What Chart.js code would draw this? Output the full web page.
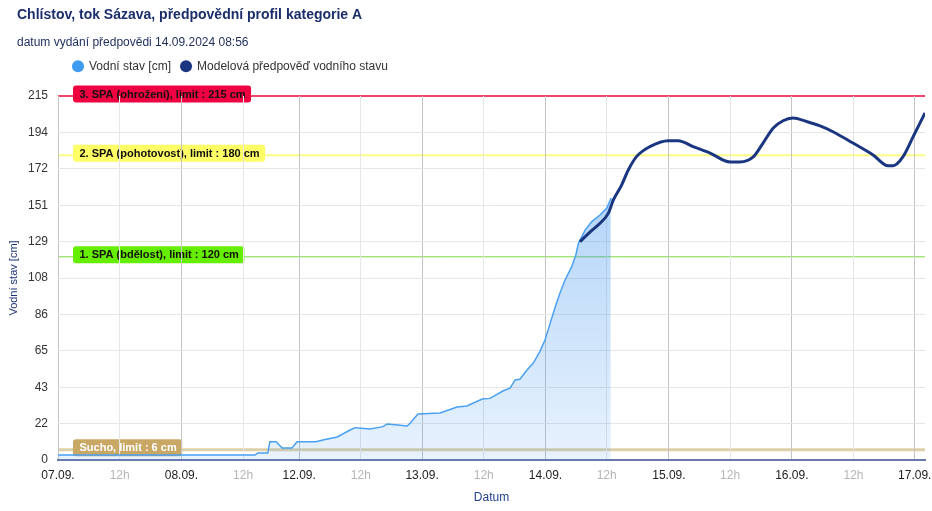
<!DOCTYPE html>
<html lang="cs">
<head>
<meta charset="utf-8">
<title>Chlístov, tok Sázava</title>
<script src="https://cdn.jsdelivr.net/npm/chart.js@4.4.1/dist/chart.umd.min.js"></script>
<style>
  html, body { margin: 0; padding: 0; background: #fff; }
</style>
</head>
<body>
<canvas id="levelChart" width="932" height="511"></canvas>
<script>
const titleText = 'Chlístov, tok Sázava, předpovědní profil kategorie A';
const subtitleText = 'datum vydání předpovědi 14.09.2024 08:56';

// osa x v hodinách od 07.09. 00:00 (mezi 08.09. a 12.09. je osa zkrácená)
const xTickPos = [0, 12, 24, 36, 46.9, 58.9, 70.8, 82.8, 94.8, 106.7, 118.8, 130.7, 142.7, 154.7, 166.6];
const xTickLabels = ['07.09.', '12h', '08.09.', '12h', '12.09.', '12h', '13.09.', '12h', '14.09.', '12h', '15.09.', '12h', '16.09.', '12h', '17.09.'];
const yTicks = [0, 21.5, 43, 64.5, 86, 107.5, 129, 150.5, 172, 193.5, 215];

// Vodní stav [cm]
const obsHours = [0, 38.3, 38.9, 40.8, 41.2, 42.4, 43.6, 45.5, 46.5, 50.2, 51.5, 54.3, 56.8, 57.8, 60.7, 63.2, 64.0, 66.1, 67.9, 68.5,
  70.0, 74.3, 77.6, 79.5, 82.5, 84.0, 86.6, 87.9, 88.9, 89.8, 91.2, 92.4, 93.7, 94.7, 95.7, 96.7, 97.6, 98.6, 99.9, 100.7,
  101.2, 102.5, 103.8, 105.4, 106.7, 107.4, 107.5];
const obsLevel = [3, 3, 4.1, 4.1, 10.8, 10.8, 7.1, 7.1, 10.8, 10.8, 11.8, 13.6, 17.7, 19.1, 18.3, 19.7, 21.3, 20.7, 20.1, 21.9,
  27.2, 27.8, 31.3, 31.9, 36.0, 36.4, 40.9, 42.4, 47.3, 47.7, 53.2, 57.1, 64.0, 70.9, 80.7, 90.5, 98.5, 106.3, 114.2, 121.1,
  128.0, 135.8, 140.8, 144.7, 148.7, 153.6, 154.8];

// Modelová předpověď
const fcHours = [101.5, 103.5, 105.4, 107.0, 108.0, 109.6, 110.9, 112.5, 115.1, 118.7, 120.6, 123.5, 126.8, 130.7, 132.6,
  135.2, 137.1, 139.1, 141.0, 142.9, 145.7, 148.2, 150.7, 154.6, 158.5, 161.4, 162.4, 164.3, 166.3, 168.6];
const fcLevel = [128.9, 134.8, 139.8, 145.7, 153.6, 162.4, 171.3, 179.2, 185.1, 188.6, 188.6, 185.1, 181.3, 176.0, 176.0,
  179.0, 187.2, 196.1, 200.4, 202.0, 199.8, 197.3, 193.9, 187.2, 180.2, 173.8, 173.8, 179.0, 191.0, 205.0];

// limity SPA
const limitValues = [215, 180, 120, 6];
const limitLabels = [
  '3. SPA (ohrožení), limit : 215 cm',
  '2. SPA (pohotovost), limit : 180 cm',
  '1. SPA (bdělost), limit : 120 cm',
  'Sucho, limit : 6 cm'
];
const limitStyles = [
  { line: '#f2456b', width: 2, box: '#ef0040', text: '#111' },
  { line: '#fdfd85', width: 2, box: '#ffff66', text: '#111' },
  { line: '#7ad83c', width: 1, box: '#66ee00', text: '#111' },
  { line: '#ddd0a8', width: 3, box: '#c9a866', text: '#fff' }
];

const legendColors = ['#1b3680', '#3f9bf2'];
const fontFamily = "'Liberation Sans', Arial, sans-serif";
Chart.defaults.font.family = fontFamily;

// limit lines and labels (drawn before grid so the grid shows through)
const limitsPlugin = {
    id: 'limits',
    beforeDraw(chart) {
        const { ctx, chartArea } = chart;
        const y = chart.scales.y;
        ctx.save();
        limitValues.forEach((v, i) => {
            const py = y.getPixelForValue(v);
            ctx.strokeStyle = limitStyles[i].line;
            ctx.lineWidth = limitStyles[i].width;
            ctx.beginPath();
            ctx.moveTo(chartArea.left, py);
            ctx.lineTo(chartArea.right, py);
            ctx.stroke();
        });
        ctx.font = 'bold 11px ' + fontFamily;
        ctx.textBaseline = 'middle';
        limitValues.forEach((v, i) => {
            const py = y.getPixelForValue(v) - 2;
            const w = ctx.measureText(limitLabels[i]).width + 12;
            ctx.fillStyle = limitStyles[i].box;
            ctx.beginPath();
            ctx.roundRect(73, py - 8.5, w, 17, 3);
            ctx.fill();
            ctx.fillStyle = limitStyles[i].text;
            ctx.fillText(limitLabels[i], 79.5, py + 0.5);
        });
        ctx.restore();
    }
};

// title, subtitle and legend: not centred in the original, and kept
// at the top while the plot area starts lower
const shiftPlugin = {
    id: 'shiftBlocks',
    afterLayout(chart) {
        const topBoxes = chart.boxes.filter(b => b === chart.legend ||
            (b.options && typeof b.options.text === 'string'));
        const minTop = Math.min(...topBoxes.map(b => b.top));
        topBoxes.forEach(b => {
            b.top -= minTop;
            b.bottom -= minTop;
            if (b !== chart.legend) {
                b.left = 17;
            }
        });
        if (chart.legend) {
            chart.legend.left = 63;
        }
    }
};

const levelChart = document.getElementById('levelChart');
new Chart(levelChart, {
    type: 'line',
    data: {
        datasets: [
            {
                label: 'Modelová předpověď vodního stavu',
                data: fcHours.map((h, i) => ({ x: h, y: fcLevel[i] })),
                borderColor: '#1b3680',
                backgroundColor: '#1b3680',
                borderWidth: 3,
                pointRadius: 0,
                pointStyle: 'circle',
                cubicInterpolationMode: 'monotone',
                fill: false
            },
            {
                label: 'Vodní stav [cm]',
                data: obsHours.map((h, i) => ({ x: h, y: obsLevel[i] })),
                borderColor: '#4aa0f2',
                borderWidth: 1.5,
                pointRadius: 0,
                pointStyle: 'circle',
                tension: 0,
                fill: 'origin',
                backgroundColor: (context) => {
                    const area = context.chart.chartArea;
                    if (!area) return 'rgba(66, 150, 240, 0.3)';
                    const g = context.chart.ctx.createLinearGradient(0, area.top, 0, area.bottom);
                    g.addColorStop(0, 'rgba(66, 150, 240, 0.5)');
                    g.addColorStop(1, 'rgba(66, 150, 240, 0.12)');
                    return g;
                }
            }
        ]
    },
    options: {
        responsive: false,
        animation: false,
        layout: { padding: { right: 7 } },
        plugins: {
            title: {
                display: true,
                text: titleText,
                align: 'start',
                color: '#1b2e6b',
                font: { size: 14, weight: 'bold' },
                padding: { top: 7, bottom: 12 }
            },
            subtitle: {
                display: true,
                text: subtitleText,
                align: 'start',
                color: '#1d2d5c',
                font: { size: 12 },
                padding: 0
            },
            legend: {
                align: 'start',
                labels: {
                    usePointStyle: true,
                    boxWidth: 10,
                    boxHeight: 8.5,
                    color: '#333',
                    font: { size: 12 },
                    sort: (a, b) => b.datasetIndex - a.datasetIndex,
                    generateLabels: (chart) => Chart.defaults.plugins.legend.labels.generateLabels(chart).map(item => {
                        item.fillStyle = legendColors[item.datasetIndex];
                        item.strokeStyle = legendColors[item.datasetIndex];
                        item.lineWidth = 0;
                        return item;
                    })
                }
            },
            tooltip: { enabled: false }
        },
        scales: {
            x: {
                type: 'linear',
                min: 0,
                max: 168.6,
                afterBuildTicks: (scale) => {
                    scale.ticks = xTickPos.map(v => ({ value: v }));
                },
                afterFit: (scale) => {
                    scale.height = 51;
                    scale.paddingLeft = 0;
                    scale.paddingRight = 0;
                },
                ticks: {
                    autoSkip: false,
                    maxRotation: 0,
                    padding: 8,
                    font: { size: 12 },
                    color: (ctx) => xTickLabels[ctx.index] === '12h' ? '#b5b5b5' : '#222',
                    callback: (value, index) => xTickLabels[index]
                },
                grid: {
                    drawTicks: false,
                    color: (ctx) => xTickLabels[ctx.index] === '12h' ? '#e6e6e6' : '#c4c4c4'
                },
                border: { display: true, color: '#6a79ad', width: 2 },
                title: {
                    display: true,
                    text: 'Datum',
                    color: '#22408c',
                    font: { size: 12 },
                    padding: { top: 0, bottom: 6 }
                }
            },
            y: {
                min: 0,
                max: 215,
                afterBuildTicks: (scale) => {
                    scale.ticks = yTicks.map(v => ({ value: v }));
                },
                afterFit: (scale) => {
                    scale.width = 58;
                    scale.paddingTop = 96;
                    scale.paddingBottom = 0;
                },
                ticks: {
                    padding: 10,
                    font: { size: 12 },
                    color: '#333',
                    callback: (value) => Math.round(value)
                },
                grid: {
                    drawTicks: false,
                    color: (ctx) => ctx.tick && ctx.tick.value === 215 ? 'rgba(0,0,0,0)' : '#e6e6e6'
                },
                border: { display: false },
                title: {
                    display: true,
                    text: 'Vodní stav [cm]',
                    color: '#1d3474',
                    font: { size: 11 },
                    padding: { top: 7, bottom: 0 }
                }
            }
        }
    },
    plugins: [limitsPlugin, shiftPlugin]
});
</script>
</body>
</html>
